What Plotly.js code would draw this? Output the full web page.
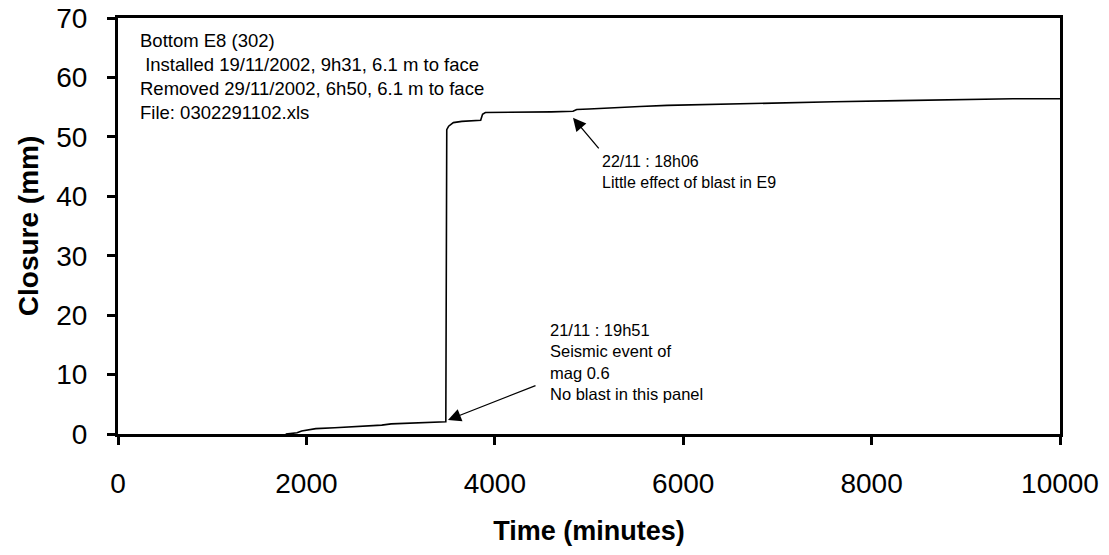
<!DOCTYPE html>
<html>
<head>
<meta charset="utf-8">
<script src="https://cdn.plot.ly/plotly-3.0.1.min.js"></script>
<style>html,body{margin:0;padding:0;background:#fff;}#chart{width:1109px;height:555px;}</style>
</head>
<body>
<div id="chart"></div>
<script>
// Time (minutes) and closure (mm)
const timeMinutes = [1780, 1900, 1950, 2050, 2100, 2300, 2500, 2650, 2800, 2900, 3100, 3300, 3480,
  3490, 3510, 3560, 3650, 3850, 3870, 3900, 4200, 4600, 4830, 4870, 5000, 5330, 5540, 5830, 6390,
  7100, 7600, 8300, 8940, 9500, 10000];
const closureMm = [0.0, 0.2, 0.5, 0.7, 0.9, 1.05, 1.2, 1.35, 1.5, 1.7, 1.8, 1.95, 2.05,
  51.2, 51.8, 52.4, 52.6, 52.8, 53.8, 54.1, 54.1, 54.2, 54.3, 54.6, 54.7, 55.0, 55.1, 55.3, 55.5,
  55.8, 55.9, 56.1, 56.3, 56.4, 56.4];

const xTicks = [0, 2000, 4000, 6000, 8000, 10000];
const yTicks = [0, 10, 20, 30, 40, 50, 60, 70];

const headerLines = ["Bottom E8 (302)", " Installed 19/11/2002, 9h31, 6.1 m to face",
  "Removed 29/11/2002, 6h50, 6.1 m to face", "File: 0302291102.xls"];
const blastNoteLines = ["22/11 : 18h06", "Little effect of blast in E9"];
const seismicNoteLines = ["21/11 : 19h51", "Seismic event of", "mag 0.6", "No blast in this panel"];

const FONT = "Arial, 'Liberation Sans', sans-serif";

const trace = {
  x: timeMinutes, y: closureMm, type: "scatter", mode: "lines",
  line: {color: "#000", width: 1.6, shape: "linear"}, hoverinfo: "skip", showlegend: false
};

const axisCommon = {
  showline: true, linewidth: 3, linecolor: "#000", mirror: true,
  ticks: "outside", ticklen: 8, tickwidth: 3, tickcolor: "#000",
  showgrid: false, zeroline: false,
  tickfont: {family: FONT, size: 28, color: "#000"}
};

const layout = {
  width: 1109, height: 555,
  margin: {l: 118, r: 49, t: 18, b: 121},
  paper_bgcolor: "#fff", plot_bgcolor: "#fff",
  font: {family: FONT, color: "#000"},
  xaxis: Object.assign({}, axisCommon, {
    range: [0, 10000], tickvals: xTicks, ticktext: xTicks.map(String),
    ticklabelstandoff: 14,
    title: {text: "Time (minutes)", font: {family: FONT, size: 27, color: "#000", weight: "bold"}, standoff: 24}
  }),
  yaxis: Object.assign({}, axisCommon, {
    range: [0, 70], tickvals: yTicks, ticktext: yTicks.map(String),
    ticklabelstandoff: 14,
    title: {text: "Closure (mm)", font: {family: FONT, size: 28, color: "#000", weight: "bold"}, standoff: 10}
  }),
  annotations: [
    {xref: "x", yref: "y", x: 210, y: 68.4, xanchor: "left", yanchor: "top", align: "left",
     showarrow: false, text: headerLines.join("<br>"), font: {family: FONT, size: 18.5, color: "#000"}},
    {xref: "x", yref: "y", x: 5120, y: 47.6, xanchor: "left", yanchor: "top", align: "left",
     showarrow: false, text: blastNoteLines.join("<br>"), font: {family: FONT, size: 16, color: "#000"}},
    {xref: "x", yref: "y", x: 4565, y: 19.3, xanchor: "left", yanchor: "top", align: "left",
     showarrow: false, text: seismicNoteLines.join("<br>"), font: {family: FONT, size: 16.5, color: "#000"}},
    {xref: "x", yref: "y", axref: "x", ayref: "y", x: 4830, y: 53.2, ax: 5117, ay: 47.8,
     text: "", showarrow: true, arrowhead: 2, arrowsize: 2, arrowwidth: 1.3, arrowcolor: "#000", standoff: 0},
    {xref: "x", yref: "y", axref: "x", ayref: "y", x: 3503, y: 2.36, ax: 4448, ay: 8.25,
     text: "", showarrow: true, arrowhead: 2, arrowsize: 2, arrowwidth: 1.3, arrowcolor: "#000", standoff: 0}
  ]
};

Plotly.newPlot("chart", [trace], layout, {staticPlot: true, displayModeBar: false});
</script>
</body>
</html>
